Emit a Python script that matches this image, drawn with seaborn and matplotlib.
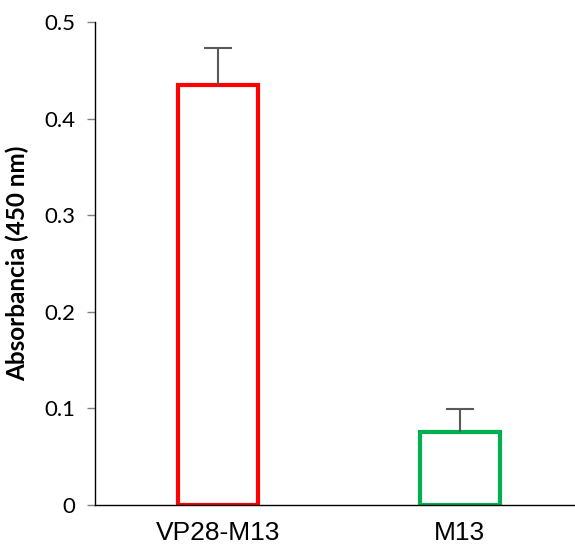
import matplotlib
matplotlib.use("Agg")
import matplotlib.pyplot as plt
import pandas as pd
import seaborn as sns

groups = ["VP28-M13", "M13"]
absorbance = [0.435, 0.076]
error_up = [0.038, 0.023]
bar_colors = ["#ff0000", "#00b050"]
yticks = [0, 0.1, 0.2, 0.3, 0.4, 0.5]
ytick_labels = ["0", "0.1", "0.2", "0.3", "0.4", "0.5"]

sns.set_style("white")
plt.rcParams["font.family"] = ["Liberation Sans", "DejaVu Sans"]
plt.rcParams["text.color"] = "black"

df = pd.DataFrame({"group": groups, "abs": absorbance})

fig = plt.figure(figsize=(5.75, 5.48), dpi=100)
ax = fig.add_axes([0.165, 0.0785, 0.835, 0.8815])

sns.barplot(data=df, x="group", y="abs", hue="group", palette=bar_colors,
            fill=False, linewidth=3, width=0.33, errorbar=None, legend=False, ax=ax)

# upper-only error bars, Excel style
_, caps, _ = ax.errorbar(range(len(groups)), absorbance,
                         yerr=[[0] * len(groups), error_up],
                         fmt="none", ecolor="#595959", elinewidth=1.5,
                         capsize=10, capthick=1.5, zorder=1)
caps[0].set_visible(False)

ax.set_ylim(0, 0.5)
ax.set_xlim(-0.508, 1.476)
ax.set_yticks(yticks)
ax.set_yticklabels(ytick_labels, fontfamily="Lato", fontsize=16, color="black")
ax.set_xticks(range(len(groups)))
ax.set_xticklabels(groups, fontsize=19, color="black")
ax.set_xlabel("")
ax.set_ylabel("Absorbancia (450 nm)", fontsize=17.5, fontweight="bold",
              fontfamily="Lato", color="black", labelpad=11)
ax.tick_params(axis="y", left=True, length=6, width=1, color="#808080", pad=8)
ax.tick_params(axis="x", bottom=False, pad=8)
for s in ["top", "right"]:
    ax.spines[s].set_visible(False)
for s in ["left", "bottom"]:
    ax.spines[s].set_color("black")
    ax.spines[s].set_linewidth(1)

fig.savefig("out.png", dpi=100)
